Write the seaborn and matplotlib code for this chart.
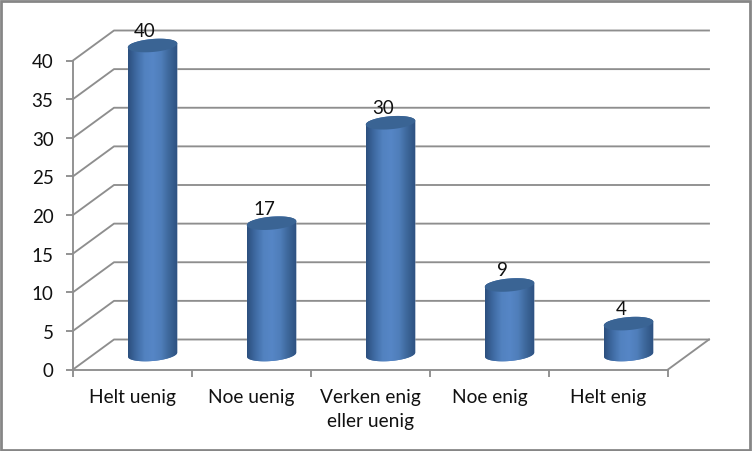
import numpy as np
import matplotlib
matplotlib.use("Agg")
import matplotlib.pyplot as plt
from matplotlib.colors import LinearSegmentedColormap
from matplotlib.patches import Polygon, Rectangle
from matplotlib.path import Path
from matplotlib.transforms import Affine2D
import seaborn as sns

categories = ["Helt uenig", "Noe uenig", "Verken enig\neller uenig", "Noe enig", "Helt enig"]
values = [40, 17, 30, 9, 4]
y_ticks = [0, 5, 10, 15, 20, 25, 30, 35, 40]

GRID = "#8e8e8e"
TEXT = "#111111"
W, H = 752, 452
PX_X = 119.0      # pixels per category
PX_Y = 7.725      # pixels per value unit
LW = 1.35

sns.set_theme(style="white")
plt.rcParams["font.family"] = ["Lato", "DejaVu Sans"]

fig = plt.figure(figsize=(W / 100, H / 100), dpi=100, facecolor="white")
ax = fig.add_axes([73 / W, (H - 370.5) / H, (668 - 73) / W, 309 / H])
ax.patch.set_alpha(0)

sns.barplot(x=categories, y=values, color="#4a78b4", width=0.416, saturation=1, ax=ax, zorder=3)
ax.set_xlim(-0.5, 4.5)
ax.set_ylim(0, 40)
ax.set_autoscale_on(False)

# back wall and floor
depth_x, depth_y = 41 / PX_X, 30 / PX_Y
x0, x1 = ax.get_xlim()
line = dict(color=GRID, lw=LW, clip_on=False, zorder=1, solid_capstyle="projecting")
for t in y_ticks:
    ax.plot([x0, x0 + depth_x, x1 + depth_x], [t, t + depth_y, t + depth_y], **line)
ax.plot([x1, x1 + depth_x], [0, depth_y], **line)

# cylinders built on the seaborn bars
shift = Affine2D().translate(20 / PX_X, 15.0 / PX_Y) + ax.transData
cmap = LinearSegmentedColormap.from_list(
    "cyl", ["#2c4f7e", "#3f6ba3", "#5282c0", "#5686c6", "#4f7eba", "#3c6699", "#2d5080"])
grad = np.linspace(0, 1, 128).reshape(1, -1)
b, k = 6.5 / PX_Y, 2.0 / PX_Y
t_low, t_up = np.linspace(np.pi, 2 * np.pi, 60), np.linspace(0, np.pi, 60)

for bar, v in zip(ax.patches, values):
    xc, a = bar.get_x() + bar.get_width() / 2, bar.get_width() / 2
    low = np.c_[xc + a * np.cos(t_low), b * np.sin(t_low) + k * np.cos(t_low)]
    up = np.c_[xc + a * np.cos(t_up), v + b * np.sin(t_up) + k * np.cos(t_up)]
    body = Path(np.r_[low, up, low[:1]], closed=True)

    bar.set_transform(shift)
    bar.set_bounds(xc - a, -b * 1.5, 2 * a, v + 2 * b)
    bar.set_clip_path(body, shift)
    bar.set_clip_box(fig.bbox)

    im = ax.imshow(grad, cmap=cmap, aspect="auto", extent=(xc - a, xc + a, -2 * b, v + 2 * b),
                   zorder=3.5, transform=shift)
    im.set_clip_path(body, shift)
    im.set_clip_box(fig.bbox)

    t_all = np.linspace(0, 2 * np.pi, 120)
    top = np.c_[xc + a * np.cos(t_all), v + b * np.sin(t_all) + k * np.cos(t_all)]
    ax.add_patch(Polygon(top, closed=True, facecolor="#3a6494", edgecolor="none",
                         transform=shift, zorder=4, clip_on=False))

    ax.annotate(str(v), (xc, v), xycoords=shift, xytext=(-7.5, 15), textcoords="offset pixels",
                ha="center", va="center", fontsize=13.5, color=TEXT, zorder=5, annotation_clip=False)

# axes
sns.despine(ax=ax)
for s in ("left", "bottom"):
    ax.spines[s].set_color(GRID)
    ax.spines[s].set_linewidth(LW)
    ax.spines[s].set_zorder(2)
ax.set_yticks(y_ticks)
ax.tick_params(axis="y", length=5, width=LW, color=GRID, pad=9, labelsize=13.5, labelcolor=TEXT, left=True)
ax.set_xticks(range(len(categories)))
ax.set_xticklabels(categories, linespacing=1.5)
ax.tick_params(axis="x", which="major", length=0, pad=13, labelsize=13.8, labelcolor=TEXT)
ax.set_xticks(np.arange(-0.5, 5), minor=True)
ax.tick_params(axis="x", which="minor", length=5, width=LW, color=GRID, bottom=True)
ax.grid(False)

# chart frame
fig.add_artist(Rectangle((1.5 / W, 1.5 / H), (W - 3.5) / W, (H - 3.5) / H, transform=fig.transFigure,
                         facecolor="none", edgecolor="#868686", lw=2.0))

fig.savefig("out.png", dpi=100, facecolor="white")
